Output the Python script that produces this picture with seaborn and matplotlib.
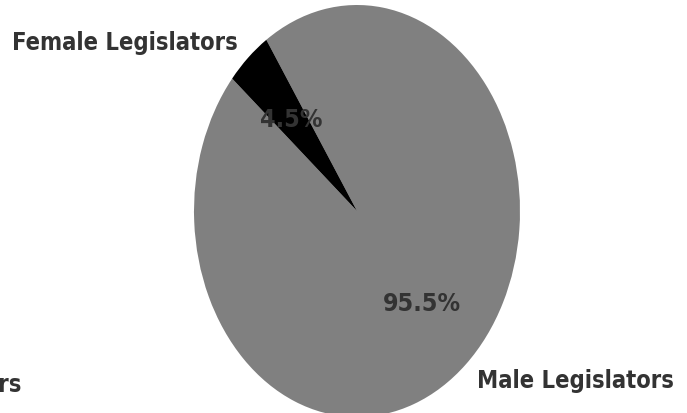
import matplotlib
matplotlib.use("Agg")
import matplotlib.pyplot as plt
from matplotlib import font_manager
import seaborn as sns

labels = ["Male Legislators", "Female Legislators"]
shares = [95.5, 4.5]
colors = ["#808080", "#000000"]

sns.set_theme(style="white")
fp = font_manager.FontProperties(family="DejaVu Sans", weight="bold", stretch="condensed")
path = font_manager.findfont(fp, fallback_to_default=True)
stretch = "condensed" if "Condensed" in path else "normal"
plt.rcParams["font.family"] = ["DejaVu Sans"]

W, H = 687, 414
fig = plt.figure(figsize=(W / 100, H / 100), dpi=100)
cx, cy, rx, ry = 357, 212, 163, 206
ax = fig.add_axes([(cx - rx) / W, (H - cy - ry) / H, 2 * rx / W, 2 * ry / H])

wedges, texts, autotexts = ax.pie(
    shares, labels=labels, colors=colors, startangle=140,
    autopct="%1.1f%%", pctdistance=0.6, labeldistance=1.1,
    wedgeprops=dict(linewidth=0, edgecolor="none"),
    textprops=dict(fontsize=17, fontweight="bold", color="#333333", fontstretch=stretch),
)
for t in autotexts:
    t.set_fontsize(18)
ax.set_xlim(-1, 1)
ax.set_ylim(-1, 1)
ax.set_aspect("auto")
ax.axis("off")

fig.text(21 / W, 1 - 385 / H, "Legislators", ha="right", va="center",
         fontsize=17, fontweight="bold", color="#333333", fontstretch=stretch)

fig.savefig("out.png", dpi=100)
